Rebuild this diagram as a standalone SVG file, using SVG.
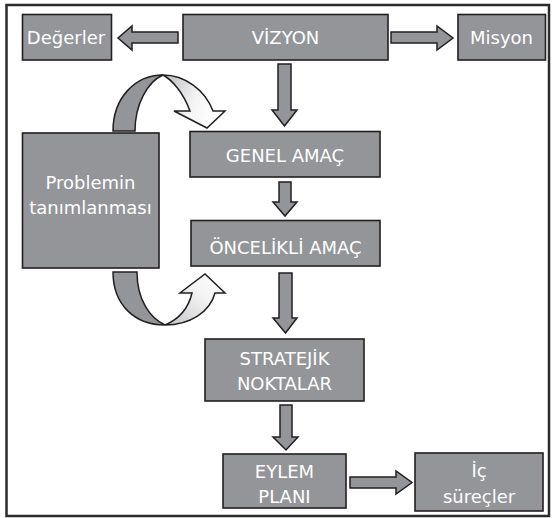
<svg xmlns="http://www.w3.org/2000/svg" width="552" height="518" viewBox="0 0 552 518">
<defs>
<style>
.box{fill:#939598;stroke:#231f20;stroke-width:1.6}
.arr{fill:#939598;stroke:#231f20;stroke-width:1.5;stroke-linejoin:miter}
.txt{font-family:"DejaVu Sans",Verdana,sans-serif;font-size:18px;fill:#ffffff;text-anchor:middle}
</style>
<linearGradient id="gTop" x1="0" y1="0" x2="1" y2="0.4">
<stop offset="0" stop-color="#b9babc"/>
<stop offset="0.6" stop-color="#f4f4f5"/>
<stop offset="1" stop-color="#ffffff"/>
</linearGradient>
<linearGradient id="gBot" x1="0" y1="1" x2="1" y2="0">
<stop offset="0" stop-color="#c4c5c7"/>
<stop offset="0.6" stop-color="#f4f4f5"/>
<stop offset="1" stop-color="#ffffff"/>
</linearGradient>
</defs>
<rect x="0" y="0" width="552" height="518" fill="#ffffff"/>
<rect x="6.5" y="5" width="542.5" height="511" fill="none" stroke="#2b2b2b" stroke-width="2.5"/>

<g id="connectors">
<polygon class="arr" points="178,32 132,32 132,26 118,38 132,50 132,43 178,43"/>
<polygon class="arr" points="391,32 437,32 437,26 453,38 437,50 437,43 391,43"/>
<polygon class="arr" points="278,64 291,64 291,110 297,110 284.5,126 272,110 278,110"/>
<polygon class="arr" points="279,182 291,182 291,202 297,202 285,216 273,202 279,202"/>
<polygon class="arr" points="279,273 292,273 292,318 297,318 285.5,333 273,318 279,318"/>
<polygon class="arr" points="280,405 292,405 292,437 298,437 286,450 273,437 280,437"/>
<polygon class="arr" points="350,477 396,477 396,471 412,482.5 396,494 396,488 350,488"/>
<g id="loop-top">
<path class="arr" d="M113,131 C113,98 135,75 163,75 C147,82 135,105 135,131 Z"/>
<path d="M163,75 C185,75 205,90 213,111 L225,111 L207,128 L174,111 L190,111 C183,92 172,80 163,75 Z" fill="url(#gTop)" stroke="#231f20" stroke-width="1.5" stroke-linejoin="miter"/>
</g>
<g id="loop-bottom">
<path class="arr" d="M113,272 L137,272 C137,300 150,318 165,325 C135,325 113,305 113,272 Z"/>
<path d="M165,325 C190,325 210,312 215,293 L225,293 L205,274 L180,293 L192,293 C188,310 177,320 165,325 Z" fill="url(#gBot)" stroke="#231f20" stroke-width="1.5" stroke-linejoin="miter"/>
</g>
</g>

<g id="degerler">
<rect class="box" x="22.5" y="14.5" width="89" height="45.5"/>
<text class="txt" x="66" y="44">Değerler</text>
</g>
<g id="vizyon">
<rect class="box" x="183" y="14.5" width="205" height="45.5"/>
<text class="txt" x="285.5" y="44">VİZYON</text>
</g>
<g id="misyon">
<rect class="box" x="458" y="14.5" width="87.5" height="45.5"/>
<text class="txt" x="501.5" y="44">Misyon</text>
</g>
<g id="problemin">
<rect class="box" x="22.5" y="133" width="136.5" height="135"/>
<text class="txt" x="90.5" y="189">Problemin</text>
<text class="txt" x="90.5" y="214">tanımlanması</text>
</g>
<g id="genel-amac">
<rect class="box" x="190" y="131.5" width="190" height="45.5"/>
<text class="txt" x="285" y="162">GENEL AMAÇ</text>
</g>
<g id="oncelikli-amac">
<rect class="box" x="191" y="220.5" width="189" height="45.5"/>
<text class="txt" x="285.5" y="253.5">ÖNCELİKLİ AMAÇ</text>
</g>
<g id="stratejik-noktalar">
<rect class="box" x="205" y="339" width="159" height="62"/>
<text class="txt" x="284.5" y="365">STRATEJİK</text>
<text class="txt" x="284.5" y="389.5">NOKTALAR</text>
</g>
<g id="eylem-plani">
<rect class="box" x="223" y="454" width="123" height="54"/>
<text class="txt" x="284.5" y="478">EYLEM</text>
<text class="txt" x="284.5" y="503">PLANI</text>
</g>
<g id="ic-surecler">
<rect class="box" x="415" y="453" width="128" height="58"/>
<text class="txt" x="479" y="477">İç</text>
<text class="txt" x="479" y="503">süreçler</text>
</g>
</svg>
